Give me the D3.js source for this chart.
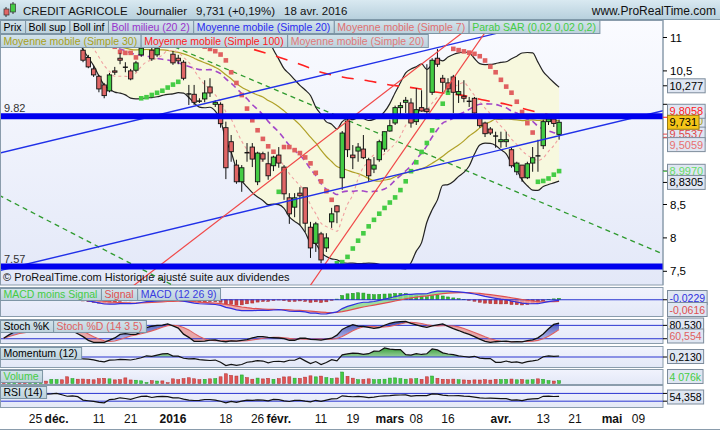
<!DOCTYPE html>
<html><head><meta charset="utf-8">
<script src="https://cdn.jsdelivr.net/npm/d3@7/dist/d3.min.js"></script>
<style>
body{margin:0;background:#ffffff;}
svg{display:block;font-family:"Liberation Sans",Arial,Helvetica,sans-serif;}
</style></head><body>
<svg id="chart" width="720" height="430"></svg>
<script>
// ================= DATA =================
const startDate = "2015-11-17";
const holidays = ["2015-12-25","2016-01-01","2016-03-25","2016-03-28"];

const open = [11.15,10.96,11.05,11.12,11.06,11.00,11.04,11.10,11.15,11.10,11.14,11.16,11.10,11.00,11.05,
10.81,10.70,10.53,10.42,10.29,10.20,10.50,10.69,10.56,10.50,
10.51,10.74,10.87,10.81,10.74,10.95,10.90,10.75,10.69,10.63,
10.16,10.15,10.05,10.08,10.26,10.00,10.00,9.65,9.44,9.09,
8.84,9.28,9.36,8.84,9.26,9.11,9.08,9.24,9.06,8.60,
8.46,8.67,8.75,8.16,7.92,8.06,7.85,8.24,8.48,8.90,
9.75,9.24,9.30,9.33,9.17,9.03,9.17,9.33,9.60,9.72,
9.95,10.03,10.02,9.74,9.95,9.93,10.18,10.69,10.39,10.32,
10.41,10.15,10.12,10.05,10.09,9.80,9.72,9.63,9.53,9.44,
9.44,9.32,8.99,9.09,8.90,9.12,9.23,9.38,9.74,9.78,
9.55];
const high = [11.20,11.08,11.15,11.18,11.12,11.06,11.12,11.18,11.17,11.16,11.19,11.19,11.15,11.08,11.08,
10.84,10.74,10.57,10.44,10.32,10.47,10.56,10.77,10.63,10.53,
10.65,10.89,10.95,10.87,10.89,10.99,10.93,10.80,10.74,10.66,
10.29,10.29,10.09,10.36,10.39,10.06,10.03,9.74,9.54,9.17,
9.09,9.42,9.42,9.29,9.29,9.29,9.23,9.36,9.09,8.67,
8.67,8.76,8.75,8.24,8.24,8.09,8.07,8.45,8.49,9.60,
9.80,9.39,9.42,9.54,9.20,9.21,9.47,9.59,9.77,9.98,
10.03,10.11,10.09,10.24,10.21,10.60,10.69,10.83,10.44,10.39,
10.44,10.36,10.36,10.11,10.11,9.84,9.74,9.66,9.59,9.59,
9.59,9.35,9.14,9.09,9.14,9.36,9.47,9.77,9.84,9.81,
9.77];
const low = [10.88,10.92,11.00,11.04,10.98,10.95,11.00,11.06,11.05,11.02,11.08,11.06,11.00,10.99,10.99,
10.63,10.54,10.41,10.18,10.09,10.18,10.44,10.60,10.48,10.36,
10.48,10.71,10.86,10.65,10.71,10.86,10.85,10.59,10.60,10.36,
9.99,9.99,10.02,10.03,10.11,9.96,9.65,8.88,9.14,8.81,
8.69,9.14,9.06,8.79,9.14,8.87,9.00,9.05,8.57,8.21,
8.31,8.19,8.09,7.70,7.79,7.62,7.79,8.15,8.22,8.72,
9.21,9.03,9.14,9.18,8.84,8.97,9.14,9.29,9.59,9.69,
9.81,9.87,9.65,9.69,9.89,9.84,10.14,10.56,10.18,10.18,
9.87,10.02,10.03,9.96,9.86,9.65,9.51,9.54,9.35,9.35,
9.36,9.05,8.94,8.84,8.88,8.99,8.99,9.33,9.69,9.66,
9.47];
const close = [10.95,11.05,11.12,11.08,11.02,11.04,11.10,11.15,11.10,11.12,11.16,11.10,11.02,11.05,11.00,
10.66,10.56,10.44,10.23,10.13,10.44,10.48,10.66,10.55,10.38,
10.62,10.84,10.92,10.68,10.84,10.88,10.86,10.62,10.65,10.39,
10.15,10.03,10.045,10.17,10.17,10.03,9.71,9.05,9.29,8.84,
9.05,9.27,9.18,9.27,9.18,8.93,9.21,9.12,8.66,8.36,
8.60,8.63,8.22,7.85,8.21,7.67,8.00,8.36,8.39,9.57,
9.32,9.20,9.36,9.20,8.93,9.09,9.44,9.59,9.68,9.95,
9.98,10.06,9.72,9.92,9.90,9.89,10.66,10.60,10.33,10.23,
10.18,10.19,10.09,10.04,9.87,9.68,9.56,9.57,9.52,9.47,
9.47,9.08,9.12,8.90,9.11,9.20,9.226,9.74,9.78,9.713,
9.731];
// volume in thousands of shares
const volume = [5200,4800,5600,4500,4200,5100,4700,3900,3500,6100,5800,5400,9800,7200,6300,
6500,5900,5400,7000,7600,6800,5300,5600,8200,5200,4800,3900,1500,4200,3600,3800,1200,
6800,5700,7100,8400,6900,5600,6200,6800,7200,9800,14200,11800,10900,12500,8600,6300,7900,6700,7600,6200,
7200,9600,9800,7800,7400,9300,11200,9700,10800,8600,7300,8100,16800,10500,7800,5600,5900,6800,5700,6100,6300,
7900,8200,7100,6300,6900,7200,6100,9800,10900,7600,6200,5800,6400,5500,5200,4800,5300,5100,5600,5000,5900,
5800,6100,6500,5400,5900,5200,5600,6800,6200,4300,3600,4076];

// 100-day moving average (date, value)
const sma100Dates  = ["2015-11-17","2015-12-08","2015-12-21","2016-01-06","2016-01-20","2016-01-29","2016-02-05","2016-02-11","2016-02-17","2016-02-24","2016-03-01","2016-03-08","2016-03-14","2016-03-21","2016-03-29","2016-04-04","2016-04-11","2016-04-18"];
const sma100Values = [11.30,11.25,11.15,11.04,10.89,10.73,10.60,10.48,10.41,10.35,10.29,10.24,10.18,10.13,10.06,10.00,9.90,9.806];

// drawn objects: [date, price] anchor pairs
const channelLow  = [["2015-11-17",7.525],["2016-05-09",9.815]];
const channelHigh = [["2015-11-17",9.284],["2016-05-09",11.574]];
const redLine1    = [["2015-12-22",7.313],["2016-02-18",9.749]];
const redLine2    = [["2016-02-09",7.292],["2016-03-24",10.960]];
const greenLine1  = [["2015-11-17",8.602],["2015-12-22",7.577]];
const greenLine2  = [["2016-02-01",10.197],["2016-05-09",7.915]];
const levels      = [9.82, 7.57];
const levelTexts  = ["9.82","7.57"];

// x axis ticks
const tickDates  = ["2015-11-25","2015-12-01","2015-12-11","2015-12-21","2016-01-04","2016-01-18","2016-01-26","2016-02-01","2016-02-11","2016-02-19","2016-03-01","2016-03-08","2016-03-16","2016-04-01","2016-04-13","2016-04-21","2016-05-02","2016-05-09"];
const tickLabels = ["25","déc.","11","21","2016","18","26","févr.","11","19","mars","08","16","avr.","13","21","mai","09"];
const tickBold   = [0,1,0,0,1,0,0,1,0,0,1,0,0,1,0,0,1,0];
const priceTicks = [7.5,8,8.5,9,9.5,10,10.5,11];

// last-value labels on the price axis
const axisValues = [10.277, 9.8058, 9.5537, 9.5059, 8.9970, 8.8305];
const axisTexts  = ["10,277","9,8058","9,5537","9,5059","8,9970","8,8305"];
const axisColors = ["#000000","#ff2020","#e04848","#e87070","#66dd66","#000000"];
const sma30Text = "9,7510";
const lastText = "9,731";
const headerParts = ["CREDIT AGRICOLE","Journalier","9,731 (+0,19%)","18 avr. 2016"];

// ================= HELPERS =================
function buildCalendar(start, n){
  const d = new Date(start+"T12:00:00Z"); const out=[];
  while(out.length<n){
    const dow=d.getUTCDay(); const s=d.toISOString().slice(0,10);
    if(dow!==0 && dow!==6 && !holidays.includes(s)) out.push(s);
    d.setUTCDate(d.getUTCDate()+1);
  }
  return out;
}
const cal = buildCalendar(startDate, 130);
const idxOf = d => cal.indexOf(d);
const N = close.length;
const I = d3.range(N);

const sma = (a,n)=>a.map((_,i)=>d3.mean(a.slice(Math.max(0,i-n+1),i+1)));
const sd  = (a,n)=>a.map((_,i)=>{const s=a.slice(Math.max(0,i-n+1),i+1);const m=d3.mean(s);return Math.sqrt(d3.mean(s.map(v=>(v-m)*(v-m))));});
const ema = (a,n)=>{const k=2/(n+1);const r=[a[0]];for(let i=1;i<a.length;i++)r.push(k*a[i]+(1-k)*r[i-1]);return r;};

const mid = sma(close,20), dev = sd(close,20);
const bUp = mid.map((m,i)=>m+2*dev[i]), bLo = mid.map((m,i)=>m-2*dev[i]);
const ma7 = sma(close,7), ma30 = sma(close,30);

// Parabolic SAR 0.02 / 0.02 / 0.2
function psar(h,l){
  const out=[null]; let bull=true, af=0.02, ep=h[0], s=l[0];
  for(let i=1;i<h.length;i++){
    s = s + af*(ep-s);
    if(bull){
      s = Math.min(s, l[i-1], i>1?l[i-2]:l[i-1]);
      if(l[i]<s){bull=false; s=ep; ep=l[i]; af=0.02;}
      else if(h[i]>ep){ep=h[i]; af=Math.min(af+0.02,0.2);}
    } else {
      s = Math.max(s, h[i-1], i>1?h[i-2]:h[i-1]);
      if(h[i]>s){bull=true; s=ep; ep=h[i]; af=0.02;}
      else if(l[i]<ep){ep=l[i]; af=Math.min(af+0.02,0.2);}
    }
    out.push({v:s,bull});
  }
  return out;
}
const sar = psar(high,low);

const e12=ema(close,12), e26=ema(close,26);
const macd = e12.map((v,i)=>v-e26[i]);
const signal = ema(macd,9);
const hist = macd.map((v,i)=>v-signal[i]);

const rawK = I.map(i=>{const a=Math.max(0,i-13);const hh=d3.max(high.slice(a,i+1)),ll=d3.min(low.slice(a,i+1));return hh>ll?100*(close[i]-ll)/(hh-ll):50;});
const stK = sma(rawK,3), stD = sma(stK,5);

const mom = I.map(i=>i>=12?close[i]-close[i-12]:null);

const rsi = (()=>{const r=[50];let ag=0,al=0;for(let i=1;i<N;i++){const d=close[i]-close[i-1];const g=Math.max(d,0),l=Math.max(-d,0);
  if(i<=14){ag=(ag*(i-1)+g)/i;al=(al*(i-1)+l)/i;}else{ag=(ag*13+g)/14;al=(al*13+l)/14;}
  r.push(al===0?100:100-100/(1+ag/al));}return r;})();

// ================= SCALES =================
const x = d3.scaleLinear().domain([0,124]).range([3.7,659.6]);
const M = {x0:1,x1:663,y0:20,y1:285};
const y = d3.scaleLinear().domain([7.5,11]).range([271.3,37.5]);

const svg = d3.select("#chart");
const defs = svg.append("defs");
function lg(id, stops){const g=defs.append("linearGradient").attr("id",id).attr("x1",0).attr("y1",0).attr("x2",0).attr("y2",1);
  stops.forEach(([o,c,op])=>g.append("stop").attr("offset",o).attr("stop-color",c).attr("stop-opacity",op===undefined?1:op));}
lg("bgMain",[[0,"#fafbff"],[1,"#e3e8f8"]]);
lg("bgPanel",[[0,"#f1f3fd"],[1,"#e3e8f7"]]);
lg("hdr",[[0,"#d9e9f1"],[1,"#b6cfdc"]]);
lg("boxg",[[0,"#d3e3eb"],[1,"#bcd1dc"]]);
lg("gUp",[[0,"#2f9a2f",0.95],[1,"#c9ecc9",0.6]]);
lg("gDn",[[0,"#f3d3d3",0.6],[1,"#c24a4a",0.95]]);
lg("stUp",[[0,"#3444b0",0.95],[1,"#aab2ee",0.7]]);
function clip(id,x0,y0,x1,y1){defs.append("clipPath").attr("id",id).append("rect").attr("x",x0).attr("y",y0).attr("width",x1-x0).attr("height",y1-y0);}

// page
svg.append("rect").attr("width",720).attr("height",430).attr("fill","#ffffff");
// header
svg.append("rect").attr("x",0).attr("y",0).attr("width",720).attr("height",20).attr("fill","url(#hdr)");
svg.append("line").attr("x1",0).attr("x2",720).attr("y1",19.5).attr("y2",19.5).attr("stroke","#7f98a8");
// icon
svg.append("line").attr("x1",6).attr("x2",6).attr("y1",7).attr("y2",17).attr("stroke","#333");
svg.append("rect").attr("x",4).attr("y",9).attr("width",5).attr("height",6).attr("fill","#e06666").attr("stroke","#333").attr("stroke-width",0.7);
svg.append("line").attr("x1",13).attr("x2",13).attr("y1",2).attr("y2",14).attr("stroke","#333");
svg.append("rect").attr("x",10.5).attr("y",4).attr("width",5).attr("height",8).attr("fill","#44cc44").attr("stroke","#333").attr("stroke-width",0.7);
{
  let hx=23;
  headerParts.forEach(t=>{
    const tx=svg.append("text").attr("x",hx).attr("y",14.5).attr("font-size",11.5).attr("fill","#111").text(t);
    hx+=tx.node().getComputedTextLength()+9;
  });
}
svg.append("text").attr("x",716).attr("y",14.5).attr("text-anchor","end").attr("font-size",12).attr("fill","#111").text("www.ProRealTime.com");

// ================= MAIN PANEL =================
clip("cMain",M.x0,M.y0,M.x1,M.y1);
svg.append("rect").attr("x",0.5).attr("y",20.5).attr("width",662.5).attr("height",264.5).attr("fill","url(#bgMain)").attr("stroke","#8a9cac");
const gm = svg.append("g").attr("clip-path","url(#cMain)");

// Bollinger fill
gm.append("path").datum(I).attr("fill","#f7f8de").attr("d",d3.area().x(i=>x(i)).y0(i=>y(bLo[i])).y1(i=>y(bUp[i])).curve(d3.curveMonotoneX));

// trend lines (extended, clipped)
function tline(anchors, color, w, dash){
  const [a,b]=anchors; const i1=idxOf(a[0]), i2=idxOf(b[0]);
  const sl=(b[1]-a[1])/(i2-i1); const f=i=>a[1]+sl*(i-i1);
  gm.append("line").attr("x1",x(-10)).attr("y1",y(f(-10))).attr("x2",x(140)).attr("y2",y(f(140)))
    .attr("stroke",color).attr("stroke-width",w).attr("stroke-dasharray",dash||null);
}
tline(greenLine1,"#2e9a2e",1.3,"5,4");
tline(greenLine2,"#2e9a2e",1.3,"5,4");

// Boll lines
const ln = arr=>d3.line().defined(i=>arr[i]!=null).x(i=>x(i)).y(i=>y(arr[i])).curve(d3.curveMonotoneX);
gm.append("path").datum(I).attr("fill","none").attr("stroke","#222").attr("stroke-width",1.2).attr("d",ln(bUp));
gm.append("path").datum(I).attr("fill","none").attr("stroke","#222").attr("stroke-width",1.2).attr("d",ln(bLo));
gm.append("path").datum(I).attr("fill","none").attr("stroke","#b0a128").attr("stroke-width",1.2).attr("d",ln(ma30));
gm.append("path").datum(I).attr("fill","none").attr("stroke","#f0a0a0").attr("stroke-width",1.1).attr("stroke-dasharray","3,3").attr("d",ln(ma7));
gm.append("path").datum(I).attr("fill","none").attr("stroke","#a347c8").attr("stroke-width",1.6).attr("stroke-dasharray","6,4").attr("d",ln(mid));
// SMA100 (read values)
gm.append("path").datum(sma100Dates.map((d,k)=>[idxOf(d),sma100Values[k]])).attr("fill","none").attr("stroke","#ff2020")
  .attr("stroke-width",1.6).attr("stroke-dasharray","12,11").attr("d",d3.line().x(d=>x(d[0])).y(d=>y(d[1])).curve(d3.curveMonotoneX));

// SAR
gm.selectAll("rect.sar").data(I.filter(i=>sar[i])).enter().append("rect")
  .attr("x",i=>x(i)-2.3).attr("y",i=>y(sar[i].v)-2.3).attr("width",4.6).attr("height",4.6)
  .attr("fill",i=>sar[i].bull?"#45cc45":"#e06060");

// candles
const cg = gm.append("g");
I.forEach(i=>{
  const cx=x(i);
  cg.append("line").attr("x1",cx).attr("x2",cx).attr("y1",y(high[i])).attr("y2",y(low[i])).attr("stroke","#111").attr("stroke-width",1);
  const top=Math.min(y(open[i]),y(close[i])), bot=Math.max(y(open[i]),y(close[i]));
  if(bot-top<1.2){
    cg.append("line").attr("x1",cx-2.5).attr("x2",cx+2.5).attr("y1",(top+bot)/2).attr("y2",(top+bot)/2).attr("stroke","#111").attr("stroke-width",1.4);
  } else {
    cg.append("rect").attr("x",cx-2.2).attr("y",top).attr("width",4.4).attr("height",bot-top)
      .attr("fill",close[i]>=open[i]?"#44cc44":"#e06666").attr("stroke","#111").attr("stroke-width",0.9);
  }
});

// drawn objects on top
tline(channelLow,"#2030e8",1.4);
tline(channelHigh,"#2030e8",1.4);
tline(redLine1,"#f04848",1.2);
tline(redLine2,"#f04848",1.2);
levels.forEach((v,k)=>{
  gm.append("line").attr("x1",M.x0).attr("x2",M.x1).attr("y1",y(v)).attr("y2",y(v)).attr("stroke","#0000ee").attr("stroke-width",6);
  gm.append("text").attr("x",4).attr("y",y(v)-4).attr("font-size",11).attr("fill","#333").text(levelTexts[k]);
});

// copyright
svg.append("text").attr("x",3).attr("y",281).attr("font-size",11).attr("fill","#111").text("© ProRealTime.com  Historique ajusté suite aux dividendes");

// legend boxes
function legendRow(items, x0, y0, h, fs){
  let xx=x0;
  items.forEach(([t,c])=>{
    const g=svg.append("g");
    const r=g.append("rect").attr("x",xx+0.5).attr("y",y0+0.5).attr("height",h).attr("fill","url(#boxg)").attr("stroke","#7d95a5");
    const tx=g.append("text").attr("x",xx+3.5).attr("y",y0+h-2.5).attr("font-size",fs).attr("fill",c).text(t);
    const w=tx.node().getComputedTextLength()+7;
    r.attr("width",w); xx+=w;
  });
}
legendRow([["Prix","#000"],["Boll sup","#000"],["Boll inf","#000"],["Boll milieu (20 2)","#9933cc"],["Moyenne mobile (Simple 20)","#2a2af0"],["Moyenne mobile (Simple 7)","#e07070"],["Parab SAR (0,02 0,02 0,2)","#44cc44"]],0,20,13,10.5);
legendRow([["Moyenne mobile (Simple 30)","#a8a020"],["Moyenne mobile (Simple 100)","#ff2020"],["Moyenne mobile (Simple 20)","#e07878"]],0,34,13,10.5);

// price axis
svg.append("line").attr("x1",663).attr("x2",663).attr("y1",20).attr("y2",285).attr("stroke","#8a9cac");
const yLast=y(close[N-1]);
// dodge value boxes: above / below the last price
const above=axisValues.map((v,k)=>k).filter(k=>axisValues[k]>close[N-1]).sort((a,b)=>axisValues[a]-axisValues[b]);
const below=axisValues.map((v,k)=>k).filter(k=>axisValues[k]<=close[N-1]).sort((a,b)=>axisValues[b]-axisValues[a]);
const pos={}; let prevUp=yLast, prevDn=yLast;
above.forEach(k=>{const yy=Math.min(y(axisValues[k]),prevUp-11);pos[k]=yy;prevUp=yy;});
below.forEach(k=>{const yy=Math.max(y(axisValues[k]),prevDn+10.5);pos[k]=yy;prevDn=yy;});
const boxYs=[yLast,...Object.values(pos)];
priceTicks.forEach(v=>{
  svg.append("line").attr("x1",663).attr("x2",667).attr("y1",y(v)).attr("y2",y(v)).attr("stroke","#000");
  // labels hidden behind value boxes are not drawn (as in the reference)
  if(boxYs.some(b=>Math.abs(b-y(v))<7)) return;
  svg.append("text").attr("x",670).attr("y",y(v)+4).attr("font-size",11.5).attr("fill","#000").text(String(v).replace(".",","));
});
function vbox(t,color,yc,bg,stroke,fs){
  const g=svg.append("g");
  const r=g.append("rect").attr("x",667.5).attr("y",yc-7).attr("height",14).attr("fill",bg||"#dfe6f2").attr("stroke",stroke||"#7d8c9c");
  const tx=g.append("text").attr("x",669.5).attr("y",yc+4).attr("font-size",fs||11).attr("fill",color).text(t);
  r.attr("width",tx.node().getComputedTextLength()+4);
  return g;
}
axisValues.forEach((v,k)=>{
  svg.append("line").attr("x1",663).attr("x2",667).attr("y1",y(v)).attr("y2",y(v)).attr("stroke",axisColors[k]);
});
// olive SMA30 box, mostly behind the price box
vbox(sma30Text,"#a8a020",y(ma30[N-1]));
[...above].reverse().forEach(k=>vbox(axisTexts[k],axisColors[k],pos[k]));
below.forEach(k=>vbox(axisTexts[k],axisColors[k],pos[k]));
vbox(lastText,"#000",yLast,"#f5c518","#9a7a10");

// ================= INDICATOR PANELS =================
function panel(id,y0,y1){
  svg.append("rect").attr("x",0.5).attr("y",y0+0.5).attr("width",662.5).attr("height",y1-y0).attr("fill","url(#bgPanel)").attr("stroke","#8a9cac");
  clip(id,1,y0+1,663,y1);
  return svg.append("g").attr("clip-path",`url(#${id})`);
}
function hline(g,yy){g.append("line").attr("x1",1).attr("x2",663).attr("y1",yy).attr("y2",yy).attr("stroke","#2a35d0").attr("stroke-width",1);}

// ---- MACD
const P1=[287,316];
const g1=panel("cMacd",P1[0],P1[1]);
const ext=d3.extent(macd.concat(signal));
const ym=d3.scaleLinear().domain([ext[0],ext[1]]).range([314,291]);
const hmax=d3.max(hist,v=>Math.abs(v));
const yh=d3.scaleLinear().domain([-hmax,hmax]).range([ym(0)+7,ym(0)-7]);
I.forEach(i=>{
  const h=hist[i];
  g1.append("rect").attr("x",x(i)-1.5).attr("width",3).attr("y",Math.min(yh(h),ym(0))).attr("height",Math.abs(yh(h)-ym(0)))
    .attr("fill",h>=0?"#33bb33":"#d04040").attr("stroke",h>=0?"#1e8a1e":"#a02828").attr("stroke-width",0.5);
});
const areaMS=d3.area().x(i=>x(i)).y0(i=>ym(signal[i])).y1(i=>ym(macd[i]));
defs.append("clipPath").attr("id","mAbove").append("path").attr("d",d3.area().x(i=>x(i)).y0(0).y1(i=>ym(signal[i]))(I));
defs.append("clipPath").attr("id","mBelow").append("path").attr("d",d3.area().x(i=>x(i)).y0(430).y1(i=>ym(signal[i]))(I));
g1.append("path").datum(I).attr("d",areaMS).attr("fill","#8fdc8f").attr("opacity",0.85).attr("clip-path","url(#mAbove)");
g1.append("path").datum(I).attr("d",areaMS).attr("fill","#f0a0a0").attr("opacity",0.85).attr("clip-path","url(#mBelow)");
hline(g1,ym(0));
g1.append("path").datum(I).attr("fill","none").attr("stroke","#e05050").attr("stroke-width",1.2).attr("d",d3.line().x(i=>x(i)).y(i=>ym(signal[i])));
g1.append("path").datum(I).attr("fill","none").attr("stroke","#3030e0").attr("stroke-width",1.2).attr("d",d3.line().x(i=>x(i)).y(i=>ym(macd[i])));
legendRow([["MACD moins Signal","#44cc44"],["Signal","#e05050"],["MACD (12 26 9)","#3a3ae0"]],0,P1[0]+1,12,10.5);

// ---- Stochastic
const P2=[319,343];
const g2=panel("cSto",P2[0],P2[1]);
const ys=d3.scaleLinear().domain([0,100]).range([343.2,320.9]);
const areaKD=d3.area().x(i=>x(i)).y0(i=>ys(stD[i])).y1(i=>ys(stK[i]));
defs.append("clipPath").attr("id","sAbove").append("path").attr("d",d3.area().x(i=>x(i)).y0(0).y1(i=>ys(stD[i]))(I));
defs.append("clipPath").attr("id","sBelow").append("path").attr("d",d3.area().x(i=>x(i)).y0(430).y1(i=>ys(stD[i]))(I));
g2.append("path").datum(I).attr("d",areaKD).attr("fill","url(#stUp)").attr("clip-path","url(#sAbove)");
g2.append("path").datum(I).attr("d",areaKD).attr("fill","#e8a0a0").attr("opacity",0.9).attr("clip-path","url(#sBelow)");
hline(g2,ys(80)); hline(g2,ys(20));
g2.append("path").datum(I).attr("fill","none").attr("stroke","#e06060").attr("stroke-width",1.1).attr("d",d3.line().x(i=>x(i)).y(i=>ys(stD[i])));
g2.append("path").datum(I).attr("fill","none").attr("stroke","#111").attr("stroke-width",1.3).attr("d",d3.line().x(i=>x(i)).y(i=>ys(stK[i])));
legendRow([["Stoch %K","#000"],["Stoch %D (14 3 5)","#e06060"]],0,P2[0]+1,12,10.5);

// ---- Momentum
const P3=[346,367];
const g3=panel("cMom",P3[0],P3[1]);
const mExt=d3.max(mom.filter(v=>v!=null),v=>Math.abs(v));
const yo=d3.scaleLinear().domain([-mExt,mExt]).range([366,348]);
const Im=I.filter(i=>mom[i]!=null);
const areaM=d3.area().x(i=>x(i)).y0(yo(0)).y1(i=>yo(mom[i]));
clip("moUp",0,0,720,yo(0)); clip("moDn",0,yo(0),720,430-yo(0));
g3.append("path").datum(Im).attr("d",areaM).attr("fill","url(#gUp)").attr("clip-path","url(#moUp)");
g3.append("path").datum(Im).attr("d",areaM).attr("fill","url(#gDn)").attr("clip-path","url(#moDn)");
hline(g3,yo(0));
g3.append("path").datum(Im).attr("fill","none").attr("stroke","#111").attr("stroke-width",1.2).attr("d",d3.line().x(i=>x(i)).y(i=>yo(mom[i])));
legendRow([["Momentum (12)","#000"]],0,P3[0]+1,12,10.5);

// ---- Volume
const P4=[369,384];
const g4=panel("cVol",P4[0],P4[1]);
const yv=d3.scaleLinear().domain([0,d3.max(volume)]).range([383.5,372]);
I.forEach(i=>{
  g4.append("rect").attr("x",x(i)-1.5).attr("width",3).attr("y",yv(volume[i])).attr("height",yv(0)-yv(volume[i]))
    .attr("fill",close[i]>=open[i]?"#44cc44":"#e05555").attr("stroke",close[i]>=open[i]?"#22962a":"#b02c2c").attr("stroke-width",0.5);
});
legendRow([["Volume","#44cc44"]],0,P4[0]+1,12,10.5);

// ---- RSI
const P5=[385,407];
const g5=panel("cRsi",P5[0],P5[1]);
const yr=d3.scaleLinear().domain([0,100]).range([407,387.6]);
hline(g5,yr(70)); hline(g5,yr(30));
g5.append("path").datum(I.filter(i=>i>0)).attr("fill","none").attr("stroke","#111").attr("stroke-width",1.2).attr("d",d3.line().x(i=>x(i)).y(i=>yr(rsi[i])));
legendRow([["RSI (14)","#000"]],0,P5[0]+1,12,10.5);

// indicator axis ticks and value boxes
[ym(0),ys(80),ys(20),yo(0),yr(70),yr(30)].forEach(yy=>svg.append("line").attr("x1",663).attr("x2",667).attr("y1",yy).attr("y2",yy).attr("stroke","#000"));
vbox("-0,0229","#3030e0",297.5,null,null,10.5);
vbox("-0,0616","#e05050",309.5,null,null,10.5);
vbox("80,530","#000",325,null,null,10.5);
vbox("60,554","#e06060",336,null,null,10.5);
vbox("0,2130","#000",356.5,null,null,10.5);
vbox("4 076k","#44cc44",376.5,null,null,10.5);
vbox("54,358","#000",397,null,null,10.5);

// x axis
svg.append("line").attr("x1",0).attr("x2",720).attr("y1",429.5).attr("y2",429.5).attr("stroke","#8a9cac");
tickDates.forEach((d,k)=>{
  svg.append("text").attr("x",x(idxOf(d))).attr("y",423).attr("text-anchor","middle").attr("font-size",12)
    .attr("font-weight",tickBold[k]?"bold":"normal").attr("fill","#111").text(tickLabels[k]);
});
</script></body></html>
